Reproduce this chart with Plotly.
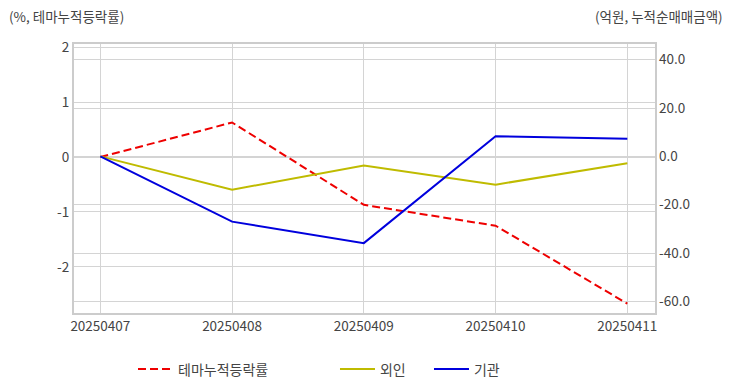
import plotly.graph_objects as go

dates = ["20250407", "20250408", "20250409", "20250410", "20250411"]
theme_rate = [0.0, 0.63, -0.87, -1.25, -2.67]
foreign = [0.0, -13.8, -3.8, -11.7, -2.8]
institution = [0.0, -27.0, -35.9, 8.3, 7.3]

left_ticks = [2, 1, 0, -1, -2]
left_text = ["2", "1", "0", "-1", "-2"]
right_ticks = [40, 20, 0, -20, -40, -60]
right_text = ["40.0", "20.0", "0.0", "-20.0", "-40.0", "-60.0"]

FONT = "Noto Sans CJK KR"
GRID = "#d4d4d4"
FRAME = "#cccccc"
TXT = "#444444"

fig = go.Figure()
fig.add_trace(go.Scatter(x=dates, y=theme_rate, name="테마누적등락률", mode="lines",
                         line=dict(color="#ee0000", width=2, dash="8px,4px"), yaxis="y",
                         legend="legend"))
fig.add_trace(go.Scatter(x=dates, y=foreign, name="외인", mode="lines",
                         line=dict(color="#bfbb00", width=2), yaxis="y2", legend="legend2"))
fig.add_trace(go.Scatter(x=dates, y=institution, name="기관", mode="lines",
                         line=dict(color="#0000dd", width=2), yaxis="y2", legend="legend3"))

def leg(x):
    return dict(orientation="h", x=x, y=-0.21, xanchor="left", yanchor="middle",
                font=dict(size=14, color=TXT, family=FONT), itemwidth=35,
                bgcolor="rgba(0,0,0,0)")

fig.update_layout(
    template="none",
    width=732, height=392,
    margin=dict(l=74, r=77, t=44, b=79, pad=0, autoexpand=False),
    paper_bgcolor="white", plot_bgcolor="white",
    font=dict(family=FONT, size=13, color=TXT),
    showlegend=True,
    hovermode=False,
    legend=leg(0.1016),
    legend2=leg(0.4492),
    legend3=leg(0.611),
    xaxis=dict(type="category", range=[-0.2, 4.21], showgrid=True, gridcolor=GRID, gridwidth=1,
               showline=True, linecolor=FRAME, linewidth=2, mirror=True, ticks="",
               ticklabelstandoff=0, automargin=False,
               tickfont=dict(size=13.5, color=TXT), zeroline=False),
    yaxis=dict(range=[-2.84, 2.06], tickvals=left_ticks, ticktext=left_text,
               showgrid=True, gridcolor=GRID, gridwidth=1, zeroline=False,
               showline=True, linecolor=FRAME, linewidth=2, mirror=True, ticks="",
               automargin=False, tickfont=dict(size=13.5, color=TXT)),
    yaxis2=dict(range=[-64.8, 46.5], tickvals=right_ticks, ticktext=right_text,
                overlaying="y", side="right", showgrid=True, gridcolor=GRID, gridwidth=1,
                zeroline=False, showline=False, ticks="", ticklabelstandoff=3,
                automargin=False, tickfont=dict(size=13.5, color=TXT)),
    annotations=[
        dict(text="(%, 테마누적등락률)", xref="paper", yref="paper", x=-0.1155, y=1.105,
             xanchor="left", yanchor="middle", showarrow=False,
             font=dict(size=13.5, color=TXT, family=FONT)),
        dict(text="(억원, 누적순매매금액)", xref="paper", yref="paper", x=1.121, y=1.105,
             xanchor="right", yanchor="middle", showarrow=False,
             font=dict(size=13.5, color=TXT, family=FONT)),
    ],
)

fig.write_html("out.html", config={"displayModeBar": False},
               post_script="document.body.style.margin='0';")
